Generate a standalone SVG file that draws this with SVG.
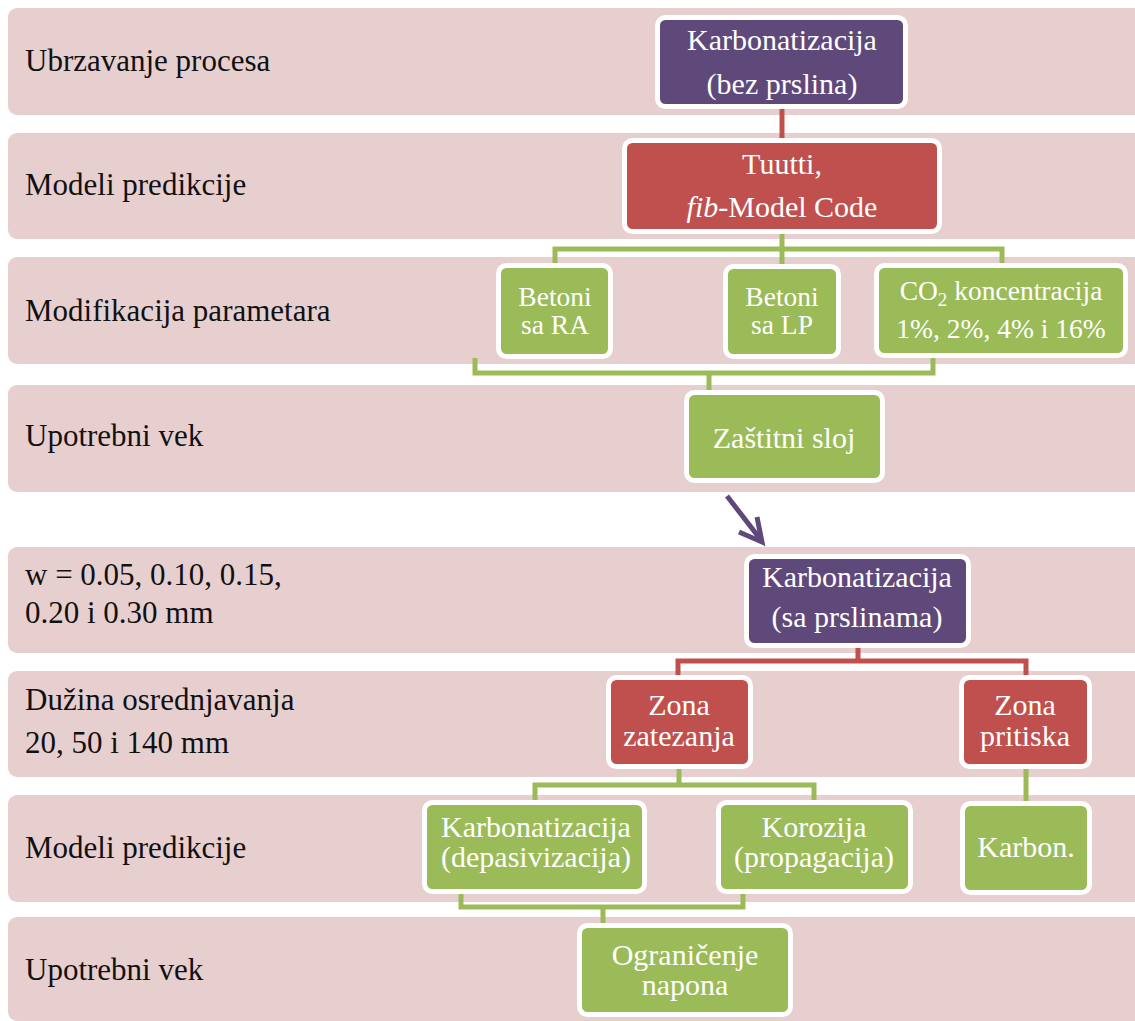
<svg xmlns="http://www.w3.org/2000/svg" width="1135" height="1021" viewBox="0 0 1135 1021">
<style>
.band{fill:#E7CFD0}
.lbl{font-family:"Liberation Serif","Times New Roman",serif;font-size:31px;fill:#111111}
.node rect{stroke:#FFFFFF;stroke-width:5}
.purple rect{fill:#5F497A}
.red rect{fill:#C0504D}
.green rect{fill:#9BBB59}
.node text{font-family:"Liberation Serif","Times New Roman",serif;font-size:30px;fill:#FFFFFF;text-anchor:middle}
.node text.sm{font-size:27.5px}
.cr{fill:none;stroke:#C0504D;stroke-width:5}
.cg{fill:none;stroke:#9BBB59;stroke-width:5}
.arr{fill:none;stroke:#5F497A;stroke-width:5;stroke-linecap:butt}
</style>
<rect width="1135" height="1021" fill="#FFFFFF"/>
<g id="bands">
<rect class="band" x="8" y="8" width="1140" height="107" rx="9"/>
<rect class="band" x="8" y="133" width="1140" height="106" rx="9"/>
<rect class="band" x="8" y="257" width="1140" height="107" rx="9"/>
<rect class="band" x="8" y="385" width="1140" height="107" rx="9"/>
<rect class="band" x="8" y="547" width="1140" height="106" rx="9"/>
<rect class="band" x="8" y="671" width="1140" height="106" rx="9"/>
<rect class="band" x="8" y="795" width="1140" height="107" rx="9"/>
<rect class="band" x="8" y="917" width="1140" height="104" rx="9"/>
</g>
<g id="labels">
<text class="lbl" x="25" y="71">Ubrzavanje procesa</text>
<text class="lbl" x="25" y="195">Modeli predikcije</text>
<text class="lbl" x="25" y="321">Modifikacija parametara</text>
<text class="lbl" x="25" y="446">Upotrebni vek</text>
<text class="lbl" x="25" y="585">w = 0.05, 0.10, 0.15,</text>
<text class="lbl" x="25" y="623">0.20 i 0.30 mm</text>
<text class="lbl" x="25" y="710">Dužina osrednjavanja</text>
<text class="lbl" x="25" y="753">20, 50 i 140 mm</text>
<text class="lbl" x="25" y="858">Modeli predikcije</text>
<text class="lbl" x="25" y="980">Upotrebni vek</text>
</g>
<g id="connectors">
<path class="cr" d="M782,107 V140"/>
<path class="cr" d="M858,645 V661 M678,676 V661 H1026 V676"/>
<path class="cg" d="M782,231 V249 M555,265 V249 H1002 V265 M782,249 V265"/>
<path class="cg" d="M475,358 V373 H933 V358 M709,373 V390"/>
<path class="cg" d="M679,766 V785 M535,801 V785 H814 V801"/>
<path class="cg" d="M1026,766 V802"/>
<path class="cg" d="M461,891 V907 H743 V891 M603,907 V924"/>
<g id="arrow">
<path class="arr" d="M727,496 L761,540"/>
<path class="arr" d="M739,532 L762,542 L757,517" stroke-linejoin="miter"/>
</g>
</g>
<g id="n-karb1" class="node purple">
<rect x="657.5" y="17.5" width="248" height="89" rx="8"/>
<text x="782" y="50">Karbonatizacija</text>
<text x="782" y="94">(bez prslina)</text>
</g>
<g id="n-tuutti" class="node red">
<rect x="624.5" y="140.5" width="315" height="91" rx="8"/>
<text x="782" y="174">Tuutti,</text>
<text x="782" y="217"><tspan font-style="italic">fib</tspan>-Model Code</text>
</g>
<g id="n-ra" class="node green">
<rect x="498.5" y="265.5" width="112" height="91" rx="8"/>
<text class="sm" x="555" y="306">Betoni</text>
<text class="sm" x="555" y="334">sa RA</text>
</g>
<g id="n-lp" class="node green">
<rect x="725.5" y="266.5" width="113" height="90" rx="8"/>
<text class="sm" x="782" y="306">Betoni</text>
<text class="sm" x="782" y="334">sa LP</text>
</g>
<g id="n-co2" class="node green">
<rect x="876.5" y="265.5" width="249" height="90" rx="8"/>
<text class="sm" x="1001" y="300">CO<tspan font-size="19" dy="6">2</tspan><tspan dy="-6"> koncentracija</tspan></text>
<text class="sm" x="1001" y="338">1%, 2%, 4% i 16%</text>
</g>
<g id="n-zastitni" class="node green">
<rect x="686.5" y="392.5" width="196" height="88" rx="8"/>
<text x="784" y="448">Zaštitni sloj</text>
</g>
<g id="n-karb2" class="node purple">
<rect x="746.5" y="556.5" width="222" height="89" rx="8"/>
<text x="857" y="587">Karbonatizacija</text>
<text x="857" y="627">(sa prslinama)</text>
</g>
<g id="n-zatezanja" class="node red">
<rect x="608.5" y="677.5" width="142" height="89" rx="8"/>
<text x="679" y="715">Zona</text>
<text x="679" y="746">zatezanja</text>
</g>
<g id="n-pritiska" class="node red">
<rect x="961.5" y="677.5" width="128" height="89" rx="8"/>
<text x="1025" y="715">Zona</text>
<text x="1025" y="746">pritiska</text>
</g>
<g id="n-depas" class="node green">
<rect x="424.5" y="802.5" width="220" height="89" rx="8"/>
<text x="536" y="837">Karbonatizacija</text>
<text x="536" y="867">(depasivizacija)</text>
</g>
<g id="n-korozija" class="node green">
<rect x="718.5" y="802.5" width="192" height="89" rx="8"/>
<text x="814" y="837">Korozija</text>
<text x="814" y="867">(propagacija)</text>
</g>
<g id="n-karbon" class="node green">
<rect x="962.5" y="803.5" width="127" height="89" rx="8"/>
<text x="1026" y="857">Karbon.</text>
</g>
<g id="n-ogranicenje" class="node green">
<rect x="579.5" y="925.5" width="211" height="89" rx="8"/>
<text x="685" y="965">Ograničenje</text>
<text x="685" y="995">napona</text>
</g>
</svg>
